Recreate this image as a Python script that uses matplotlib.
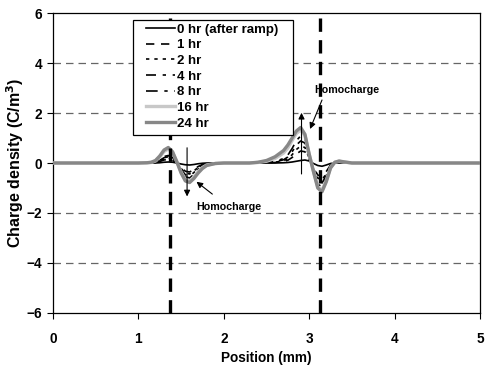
import matplotlib.pyplot as plt
from matplotlib.patches import Rectangle

plt.rcParams['font.family'] = ['Liberation Sans', 'DejaVu Sans']
plt.rcParams['font.weight'] = 'bold'

# position grid (mm), shared by all profiles
position = [0, 0.5, 1.0, 1.1, 1.15, 1.2, 1.25, 1.3, 1.35, 1.4, 1.45, 1.5, 1.55, 1.6,
            1.65, 1.7, 1.75, 1.8, 1.9, 2.0, 2.3, 2.4, 2.5, 2.6, 2.7, 2.75, 2.8, 2.85,
            2.9, 2.95, 3.0, 3.05, 3.1, 3.15, 3.2, 3.25, 3.3, 3.35, 3.4, 3.5, 4.0, 5.0]

# charge density (C/m^3) at each ageing time
rho_0hr = [0, 0, 0, 0, 0, 0, 0.01, 0.03, 0.04, 0.03, 0, -0.04, -0.07, -0.08, -0.06, -0.03, -0.01, 0, 0, 0,
           0, 0, 0, 0, 0.01, 0.02, 0.04, 0.07, 0.1, 0.12, 0.08, -0.02, -0.1, -0.13, -0.08, -0.02, 0, 0, 0, 0, 0, 0]
rho_1hr = [0, 0, 0, 0, 0, 0.01, 0.06, 0.12, 0.15, 0.1, 0, -0.18, -0.33, -0.36, -0.26, -0.14, -0.06, -0.02, 0, 0,
           0, 0, 0, 0.02, 0.06, 0.11, 0.22, 0.36, 0.48, 0.45, 0.15, -0.18, -0.48, -0.55, -0.34, -0.08, 0.01, 0.03, 0.02, 0, 0, 0]
rho_2hr = [0, 0, 0, 0, 0, 0.02, 0.08, 0.16, 0.2, 0.14, 0.01, -0.22, -0.4, -0.44, -0.32, -0.17, -0.08, -0.03, 0, 0,
           0, 0, 0.01, 0.03, 0.09, 0.17, 0.33, 0.54, 0.68, 0.62, 0.2, -0.22, -0.6, -0.68, -0.42, -0.1, 0.01, 0.04, 0.02, 0, 0, 0]
rho_4hr = [0, 0, 0, 0, 0.01, 0.03, 0.11, 0.21, 0.25, 0.18, 0.01, -0.26, -0.47, -0.52, -0.38, -0.2, -0.1, -0.04, -0.01, 0,
           0, 0, 0.01, 0.04, 0.13, 0.24, 0.45, 0.72, 0.88, 0.8, 0.25, -0.25, -0.72, -0.8, -0.5, -0.12, 0.02, 0.05, 0.03, 0, 0, 0]
rho_8hr = [0, 0, 0, 0, 0.01, 0.04, 0.14, 0.26, 0.3, 0.22, 0.02, -0.3, -0.55, -0.6, -0.45, -0.25, -0.12, -0.05, -0.01, 0,
           0, 0, 0.02, 0.06, 0.18, 0.32, 0.58, 0.9, 1.08, 0.98, 0.3, -0.3, -0.85, -0.95, -0.6, -0.15, 0.02, 0.06, 0.03, 0, 0, 0]
rho_16hr = [0, 0, 0, 0.01, 0.02, 0.08, 0.24, 0.46, 0.56, 0.42, 0.05, -0.36, -0.66, -0.72, -0.56, -0.34, -0.18, -0.08, -0.02, 0,
            0, 0.02, 0.07, 0.18, 0.4, 0.6, 0.9, 1.18, 1.32, 1.1, 0.35, -0.32, -0.95, -1.08, -0.7, -0.18, 0.03, 0.07, 0.04, 0, 0, 0]
rho_24hr = [0, 0, 0, 0.01, 0.03, 0.1, 0.28, 0.52, 0.62, 0.45, 0.05, -0.4, -0.72, -0.78, -0.62, -0.4, -0.22, -0.1, -0.02, 0,
            0, 0.03, 0.1, 0.25, 0.5, 0.72, 1.0, 1.28, 1.42, 1.15, 0.35, -0.35, -1.0, -1.15, -0.75, -0.2, 0.03, 0.08, 0.05, 0, 0, 0]

labels = ['0 hr (after ramp)', '1 hr', '2 hr', '4 hr', '8 hr', '16 hr', '24 hr']
electrodes = [1.37, 3.13]

fig = plt.figure(figsize=(4.88, 3.69), dpi=100)
ax = fig.add_axes([53 / 488, 56 / 369, 427 / 488, 300 / 369])

styles = [
    dict(color='black', lw=1.2, ls='-'),
    dict(color='black', lw=1.2, ls=(0, (5, 4))),
    dict(color='black', lw=1.2, ls=(0, (2, 3))),
    dict(color='black', lw=1.2, ls=(0, (6, 4, 2, 4))),
    dict(color='black', lw=1.2, ls=(0, (7, 4, 2, 4))),
    dict(color='#c8c8c8', lw=2.4, ls='-'),
    dict(color='#878787', lw=2.4, ls='-'),
]
series = [rho_0hr, rho_1hr, rho_2hr, rho_4hr, rho_8hr, rho_16hr, rho_24hr]
for rho, lab, st in zip(series, labels, styles):
    ax.plot(position, rho, label=lab, zorder=3, **st)

# gridlines
for yv in [-4, -2, 2, 4]:
    ax.axhline(yv, color='#666666', lw=0.9, ls=(0, (6, 4)), zorder=1)

# electrode interfaces
for xv in electrodes:
    ax.axvline(xv, color='black', lw=2.4, ls=(0, (4, 2.5)), zorder=5)

# annotations
arrow = dict(arrowstyle='-|>', color='black', lw=0.8, mutation_scale=9)
ax.annotate('', xy=(2.91, 2.12), xytext=(2.91, -0.55), arrowprops=arrow, zorder=4)
ax.annotate('', xy=(1.57, -1.45), xytext=(1.57, 0.72), arrowprops=arrow, zorder=4)
ax.annotate('Homocharge', xy=(1.68, -0.75), xytext=(2.06, -1.76), fontsize=7.7,
            fontweight='bold', ha='center', va='center',
            arrowprops=dict(arrowstyle='-|>', color='black', lw=0.8, mutation_scale=9,
                            shrinkA=6, shrinkB=0), zorder=4)
ax.text(3.44, 2.92, 'Homocharge', fontsize=7.7, fontweight='bold', ha='center',
        va='center', zorder=2)
ax.annotate('', xy=(3.01, 1.36), xytext=(3.15, 2.52),
            arrowprops=dict(arrowstyle='-|>', color='black', lw=0.8, mutation_scale=9,
                            shrinkA=0, shrinkB=0), zorder=4)

ax.set_xlim(0, 5)
ax.set_ylim(-6, 6)
ax.set_xticks([0, 1, 2, 3, 4, 5])
ax.set_yticks([-6, -4, -2, 0, 2, 4, 6])
ax.tick_params(direction='out', length=4, width=0.8, labelsize=9.8)
ax.tick_params(axis='x', pad=10)
ax.tick_params(axis='y', pad=4)
for lab in ax.get_xticklabels() + ax.get_yticklabels():
    lab.set_fontweight('bold')
for sp in ax.spines.values():
    sp.set_linewidth(0.9)

ax.set_xlabel('Position (mm)', fontsize=9.8, fontweight='bold', labelpad=3)
ax.set_ylabel('Charge density (C/m$^\\mathbf{3}$)', fontsize=11.5, fontweight='bold')
ax.yaxis.label.set_verticalalignment('center')
ax.yaxis.set_label_coords(-0.088, 0.5)

# legend box drawn separately so the padding can be set per side
box = Rectangle((0.1866, 0.593), 0.3747, 0.384, transform=ax.transAxes,
                facecolor='white', edgecolor='black', lw=0.9, zorder=5.5)
ax.add_patch(box)
leg = ax.legend(loc='upper left', bbox_to_anchor=(0.218, 0.965), fontsize=9.5,
                frameon=False, handlelength=2.2, handletextpad=0.15,
                labelspacing=0.26, borderpad=0, borderaxespad=0)
for t in leg.get_texts():
    t.set_fontweight('bold')
leg.set_zorder(6)

fig.savefig('out.png', dpi=100)
